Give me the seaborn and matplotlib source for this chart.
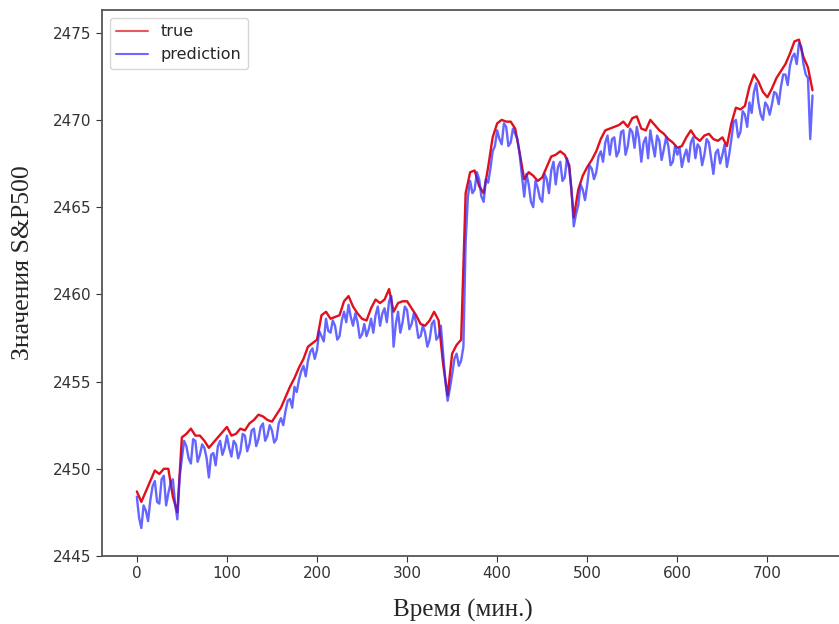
import matplotlib
matplotlib.use("Agg")
import matplotlib.pyplot as plt
import numpy as np
import pandas as pd
import seaborn as sns

# время, мин (шаг 5 минут)
minutes = list(range(0, 751, 5))
# промежуточные отсчёты прогноза (x.5 мин)
minutes_mid = [m + 2.5 for m in range(0, 750, 5)]

true_vals = [
    2448.7, 2448.1, 2448.7, 2449.3, 2449.9, 2449.7, 2450.0, 2450.0, 2448.4, 2447.5,
    2451.8, 2452.0, 2452.3, 2451.9, 2451.9, 2451.6, 2451.2, 2451.5, 2451.8, 2452.1,
    2452.4, 2451.9, 2452.0, 2452.3, 2452.2, 2452.6, 2452.8, 2453.1, 2453.0, 2452.8,
    2452.7, 2453.1, 2453.5, 2454.1, 2454.7, 2455.2, 2455.8, 2456.3, 2457.0, 2457.2,
    2457.4, 2458.8, 2459.0, 2458.6, 2458.7, 2458.8, 2459.6, 2459.9, 2459.3, 2458.9,
    2458.6, 2458.5, 2459.2, 2459.7, 2459.5, 2459.7, 2460.3, 2459.0, 2459.5, 2459.6,
    2459.6, 2459.2, 2458.8, 2458.3, 2458.2, 2458.5, 2459.0, 2458.5, 2456.0, 2454.2,
    2456.6, 2457.1, 2457.4, 2465.8, 2467.0, 2467.1, 2466.2, 2465.8, 2467.3, 2469.0,
    2469.8, 2470.0, 2469.9, 2469.9, 2469.5, 2468.1, 2466.6, 2467.0, 2466.8, 2466.5,
    2466.7, 2467.3, 2467.9, 2468.0, 2468.2, 2468.0, 2467.4, 2464.4, 2466.0, 2466.8,
    2467.3, 2467.7, 2468.2, 2468.9, 2469.4, 2469.5, 2469.6, 2469.7, 2469.9, 2469.6,
    2470.1, 2470.2, 2469.5, 2469.4, 2470.0, 2469.7, 2469.4, 2469.2, 2468.9, 2468.7,
    2468.4, 2468.5, 2469.0, 2469.4, 2469.0, 2468.8, 2469.1, 2469.2, 2468.9, 2468.8,
    2469.0, 2468.5, 2469.8, 2470.7, 2470.6, 2470.8, 2471.9, 2472.6, 2472.2, 2471.6,
    2471.3, 2471.8, 2472.4, 2472.8, 2473.2, 2473.8, 2474.5, 2474.6, 2473.6, 2473.0,
    2471.7,
]

pred_vals = [
    2448.4, 2446.6, 2447.6, 2448.2, 2449.3, 2448.0, 2449.6, 2448.6, 2449.4, 2447.1,
    2450.6, 2451.3, 2450.3, 2451.6, 2450.8, 2451.2, 2449.5, 2450.9, 2451.3, 2450.8,
    2451.9, 2450.7, 2451.4, 2451.0, 2451.9, 2451.4, 2452.3, 2451.7, 2452.6, 2451.9,
    2452.2, 2451.7, 2452.9, 2453.3, 2454.0, 2454.7, 2455.1, 2455.9, 2456.2, 2456.9,
    2456.8, 2457.6, 2458.6, 2457.8, 2458.2, 2457.6, 2459.0, 2459.4, 2458.2, 2458.4,
    2457.7, 2457.6, 2458.6, 2458.8, 2458.2, 2459.2, 2459.6, 2457.0, 2459.0, 2458.4,
    2459.1, 2458.3, 2458.4, 2457.6, 2457.8, 2457.4, 2458.5, 2457.6, 2456.6, 2453.9,
    2455.4, 2456.6, 2456.2, 2463.0, 2466.5, 2466.0, 2466.6, 2465.3, 2466.4, 2468.2,
    2469.4, 2468.6, 2469.6, 2468.7, 2469.2, 2468.0, 2465.6, 2466.3, 2465.0, 2466.1,
    2465.3, 2466.6, 2467.1, 2466.3, 2467.6, 2466.7, 2467.2, 2463.9, 2465.1, 2466.0,
    2466.3, 2467.2, 2467.0, 2468.2, 2468.7, 2468.0, 2469.0, 2468.2, 2469.4, 2468.5,
    2469.3, 2469.6, 2467.6, 2469.0, 2469.4, 2467.9, 2468.8, 2468.3, 2468.5, 2467.6,
    2468.0, 2467.3, 2468.3, 2468.7, 2467.8, 2468.4, 2468.0, 2468.7, 2466.9, 2468.3,
    2468.0, 2467.3, 2468.9, 2470.0, 2469.3, 2470.3, 2471.0, 2471.6, 2471.0, 2470.0,
    2470.8, 2470.9, 2471.5, 2471.9, 2472.6, 2473.1, 2473.8, 2474.4, 2473.2, 2472.4,
    2471.4,
]

pred_mid = [
    2447.2, 2447.9, 2447.0, 2449.0, 2448.1, 2449.4, 2447.9, 2449.2, 2448.0, 2449.5,
    2451.6, 2450.6, 2451.7, 2450.4, 2451.4, 2450.6, 2450.8, 2450.2, 2451.6, 2451.2,
    2451.2, 2451.6, 2450.6, 2452.0, 2451.0, 2452.2, 2451.3, 2452.4, 2451.6, 2452.5,
    2451.5, 2452.6, 2452.5, 2453.9, 2453.5, 2454.4, 2455.6, 2455.3, 2456.7, 2456.3,
    2457.9, 2457.3, 2457.9, 2458.5, 2457.4, 2458.5, 2458.4, 2458.7, 2458.9, 2457.5,
    2458.3, 2458.0, 2457.8, 2459.3, 2458.9, 2458.4, 2459.9, 2458.3, 2457.8, 2459.3,
    2458.0, 2458.9, 2457.5, 2458.2, 2457.0, 2458.3, 2457.4, 2458.2, 2455.0, 2454.6,
    2456.3, 2455.9, 2457.0, 2465.6, 2465.8, 2467.0, 2465.6, 2466.6, 2467.2, 2468.5,
    2468.9, 2469.8, 2468.5, 2469.5, 2468.9, 2466.8, 2466.9, 2465.3, 2466.5, 2465.5,
    2466.9, 2465.8, 2467.6, 2467.3, 2466.5, 2467.8, 2466.0, 2464.6, 2466.3, 2465.4,
    2467.4, 2466.6, 2467.9, 2467.6, 2469.1, 2468.9, 2467.9, 2469.3, 2468.0, 2469.5,
    2468.4, 2468.9, 2468.7, 2467.8, 2468.6, 2469.1, 2467.7, 2469.0, 2467.4, 2468.5,
    2468.4, 2467.9, 2467.6, 2469.0, 2468.6, 2467.4, 2468.9, 2467.8, 2468.1, 2467.5,
    2468.6, 2468.0, 2469.9, 2469.0, 2470.5, 2469.6, 2470.4, 2472.1, 2470.3, 2471.0,
    2470.3, 2471.6, 2470.9, 2472.6, 2472.0, 2473.6, 2473.2, 2474.2, 2472.6, 2468.9,
]

yticks = [2445, 2450, 2455, 2460, 2465, 2470, 2475]
xticks = [0, 100, 200, 300, 400, 500, 600, 700]

df_true = pd.DataFrame({"t": minutes, "value": true_vals})
df_pred = pd.concat([
    pd.DataFrame({"t": minutes, "value": pred_vals}),
    pd.DataFrame({"t": minutes_mid, "value": pred_mid}),
]).sort_values("t")

sns.set_style("ticks")
plt.rcParams["font.family"] = ["DejaVu Sans"]

fig = plt.figure(figsize=(8.39, 6.24), dpi=100)
# правая граница осей выходит за край картинки (как в исходнике)
ax = fig.add_axes([0.1212, 0.109, 0.888, 0.875])

sns.lineplot(data=df_true, x="t", y="value", ax=ax, color="#e0101c", lw=1.7, label="true")
sns.lineplot(data=df_pred, x="t", y="value", ax=ax, color="#2a2aff", lw=1.7,
             alpha=0.72, label="prediction")

ax.set_xlim(-39, 788)
ax.set_ylim(2445, 2476.3)
ax.set_xticks(xticks)
ax.set_yticks(yticks)
ax.tick_params(labelsize=11, colors="#333333", length=4)

for s in ax.spines.values():
    s.set_color("#555555")
    s.set_linewidth(1.3)

ax.set_xlabel("Время (мин.)", family="Liberation Serif", fontsize=18, va="center")
ax.set_ylabel("Значения S&P500", family="Liberation Serif", fontsize=18.5,
              va="center", ha="center")
ax.xaxis.set_label_coords(0.485, -0.099)
ax.yaxis.set_label_coords(-0.106, 0.537)

leg = ax.legend(loc="upper left", fontsize=11.5, frameon=True)
for line in leg.get_lines():
    line.set_alpha(0.7)
    line.set_linewidth(1.5)

fig.savefig("out.png", dpi=100)
